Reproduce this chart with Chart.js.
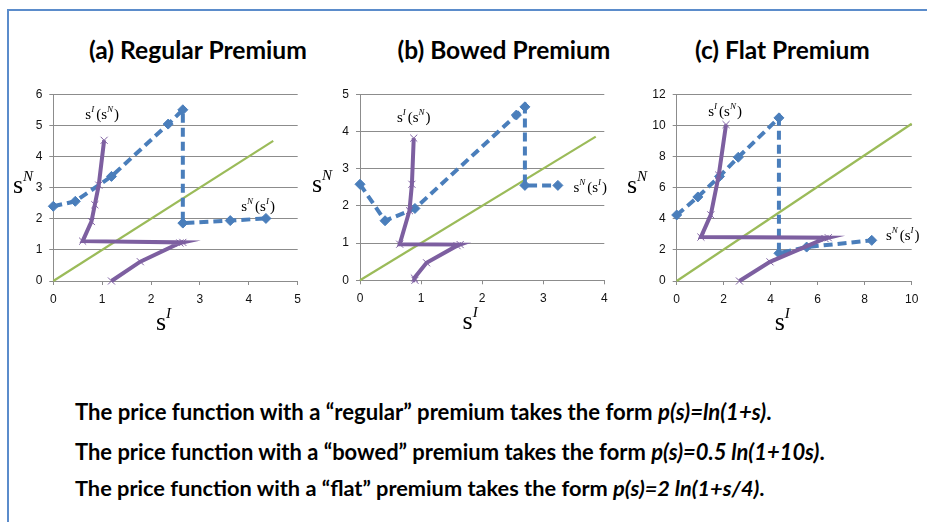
<!DOCTYPE html>
<html><head><meta charset="utf-8">
<script src="https://cdn.jsdelivr.net/npm/chart.js@4"></script>
<style>
html,body{margin:0;padding:0;background:#fff;overflow:hidden;}
body{width:929px;height:522px;position:relative;font-family:Lato,"Open Sans",sans-serif;color:#000;}
#frame{position:absolute;left:0;top:0;}
.title,.note{position:absolute;font-weight:bold;white-space:nowrap;line-height:1;}
.panel{position:absolute;top:80px;}
</style></head>
<body>
<svg id="frame" width="929" height="522"><path d="M8 522 L8 10 L927 10" fill="none" stroke="#5B8CCB" stroke-width="2"/></svg>
<div class="title" id="t0" data-cx="198" data-w="218" data-b="60">(a) Regular Premium</div>
<div class="title" id="t1" data-cx="504" data-w="213" data-b="60">(b) Bowed Premium</div>
<div class="title" id="t2" data-cx="782.5" data-w="175" data-b="60">(c) Flat Premium</div>
<canvas class="panel" id="c0" width="310" height="260" style="left:0px"></canvas>
<canvas class="panel" id="c1" width="315" height="260" style="left:305px"></canvas>
<canvas class="panel" id="c2" width="309" height="260" style="left:620px"></canvas>
<div class="note" data-x="75" data-w="697" data-b="421">The price function with a “regular” premium takes the form <i>p(s)=ln(1+s)</i>.</div>
<div class="note" data-x="75" data-w="750" data-b="460">The price function with a “bowed” premium takes the form <i>p(s)=0.5 ln(1+10s)</i>.</div>
<div class="note" data-x="75" data-w="690" data-b="497">The price function with a “flat” premium takes the form <i>p(s)=2 ln(1+s/4)</i>.</div>
<script>
// ---------- data ----------
// Panel (a) Regular premium
const aBlueX   = [0, 0.45, 1.19, 2.35, 2.65, 2.65, 3.62, 4.35];
const aBlueY   = [2.40, 2.56, 3.36, 5.04, 5.50, 1.86, 1.94, 2.01];
const aPurpleX = [1.19, 1.78, 2.59, 2.65, 0.60, 0.78, 0.85, 0.93, 1.04];
const aPurpleY = [0, 0.62, 1.22, 1.24, 1.28, 1.91, 2.45, 3.08, 4.52];
const aDiagX   = [0, 4.5];
const aDiagY   = [0, 4.5];
// Panel (b) Bowed premium
const bBlueX   = [0, 0.41, 0.90, 2.56, 2.70, 2.70, 3.24];
const bBlueY   = [2.58, 1.60, 1.93, 4.44, 4.66, 2.55, 2.55];
const bPurpleX = [0.90, 0.89, 1.09, 1.59, 1.64, 0.65, 0.81, 0.85, 0.88];
const bPurpleY = [0, 0.06, 0.47, 0.93, 0.96, 0.97, 1.87, 2.58, 3.82];
const bDiagX   = [0, 3.86];
const bDiagY   = [0, 3.86];
// Panel (c) Flat premium
const cBlueX   = [0, 0.90, 1.82, 2.62, 4.35, 4.35, 5.53, 8.30];
const cBlueY   = [4.24, 5.40, 6.72, 7.95, 10.48, 1.78, 2.18, 2.61];
const cPurpleX = [2.67, 3.97, 6.31, 6.45, 1.03, 1.45, 1.79, 2.10];
const cPurpleY = [0, 1.23, 2.73, 2.78, 2.82, 4.25, 6.80, 10.05];
const cDiagX   = [0, 10];
const cDiagY   = [0, 10.1];
// axes
const aXMax = 5, aYMax = 6, aXStep = 1, aYStep = 1;
const bXMax = 4, bYMax = 5, bXStep = 1, bYStep = 1;
const cXMax = 10, cYMax = 12, cXStep = 2, cYStep = 2;
// label anchor positions (data coords)
const aLabelSI = [1.0, 5.37], aLabelSN = [4.19, 2.42];
const bLabelSI = [0.88, 4.4], bLabelSN = [3.77, 2.5];
const cLabelSI = [2.06, 10.94], cLabelSN = [9.62, 2.93];

// ---------- helpers ----------
const zip = (xs, ys) => xs.map((x, i) => ({x, y: ys[i]}));
const BLUE = '#4A7EBB', PURPLE = '#7D5FA0', GREEN = '#9BBB59', GRID = '#8C8C8C';

function richWidth(ctx, parts){
  let w = 0;
  parts.forEach(p => { ctx.font = (p.it ? 'italic ' : '') + p.sz + 'px "Liberation Serif", "DejaVu Serif", serif'; w += ctx.measureText(p.t).width + (p.gap||0); });
  return w;
}
function drawRich(ctx, x, y, parts){
  const w = richWidth(ctx, parts);
  let cx = x - w / 2;
  ctx.save();
  ctx.fillStyle = '#000';
  ctx.textBaseline = 'alphabetic';
  ctx.textAlign = 'left';
  parts.forEach(p => {
    ctx.font = (p.it ? 'italic ' : '') + p.sz + 'px "Liberation Serif", "DejaVu Serif", serif';
    ctx.fillText(p.t, cx, y + (p.dy||0));
    cx += ctx.measureText(p.t).width + (p.gap||0);
  });
  ctx.restore();
}
const labSIofSN = [{t:'s',sz:15},{t:'I',sz:9,it:true,dy:-7,gap:2},{t:'(s',sz:15},{t:'N',sz:9,it:true,dy:-7,gap:1},{t:')',sz:15}];
const labSNofSI = [{t:'s',sz:15},{t:'N',sz:9,it:true,dy:-7,gap:2},{t:'(s',sz:15},{t:'I',sz:9,it:true,dy:-7,gap:1},{t:')',sz:15}];
const axSI = [{t:'s',sz:26},{t:'I',sz:15,it:true,dy:-12}];
const axSN = [{t:'s',sz:26},{t:'N',sz:15,it:true,dy:-12}];

function makeChart(id, cfg){
  const pad = cfg.pad;
  const textPlugin = {
    id: 'txt' + id,
    afterDatasetsDraw(chart){
      const ctx = chart.ctx, xs = chart.scales.x, ys = chart.scales.y, ca = chart.chartArea;
      drawRich(ctx, xs.getPixelForValue(cfg.lSI[0]), ys.getPixelForValue(cfg.lSI[1]) + 5, labSIofSN);
      drawRich(ctx, xs.getPixelForValue(cfg.lSN[0]), ys.getPixelForValue(cfg.lSN[1]) + 5, labSNofSI);
      drawRich(ctx, (ca.left + ca.right) / 2 - 12, ca.bottom + 49, axSI);
      drawRich(ctx, cfg.yTitleX, (ca.top + ca.bottom) / 2 + 5, axSN);
    }
  };
  return new Chart(document.getElementById(id), {
    type: 'scatter',
    data: { datasets: [
      { data: zip(cfg.px, cfg.py), showLine: true, borderColor: PURPLE, borderWidth: 4, tension: 0,
        pointStyle: 'crossRot', pointRadius: 5, pointBorderColor: PURPLE, pointBorderWidth: 1, pointBackgroundColor: PURPLE, order: 1 },
      { data: zip(cfg.bx, cfg.by), showLine: true, borderColor: BLUE, borderWidth: 4, borderDash: [9, 5], tension: 0,
        pointStyle: 'rectRot', pointRadius: 5, pointBackgroundColor: BLUE, pointBorderColor: BLUE, pointBorderWidth: 1, order: 2 },
      { data: zip(cfg.gx, cfg.gy), showLine: true, borderColor: GREEN, borderWidth: 2.2, tension: 0,
        pointRadius: 0, order: 3 }
    ]},
    options: {
      responsive: false, animation: false, devicePixelRatio: 1,
      clip: false,
      layout: { padding: { left: pad[0], top: pad[1], right: pad[2], bottom: pad[3] } },
      plugins: { legend: { display: false }, tooltip: { enabled: false } },
      scales: {
        x: { type: 'linear', min: 0, max: cfg.xMax,
          ticks: { stepSize: cfg.xStep, color: '#111', font: { family: '"Liberation Sans", Arial, sans-serif', size: 12 }, padding: 7, maxRotation: 0 },
          grid: { drawOnChartArea: false, drawTicks: true, tickLength: 4, tickColor: GRID, color: GRID },
          border: { color: GRID, width: 1 },
          afterFit(s){ s.height = 30; } },
        y: { type: 'linear', min: 0, max: cfg.yMax,
          ticks: { stepSize: cfg.yStep, color: '#111', font: { family: '"Liberation Sans", Arial, sans-serif', size: 12 }, padding: 7 },
          grid: { color: GRID, lineWidth: 1, drawTicks: true, tickLength: 4, tickColor: GRID },
          border: { color: GRID, width: 1 },
          afterFit(s){ s.width = 40; } }
      }
    },
    plugins: [textPlugin]
  });
}

makeChart('c0', { px: aPurpleX, py: aPurpleY, bx: aBlueX, by: aBlueY, gx: aDiagX, gy: aDiagY,
  xMax: aXMax, yMax: aYMax, xStep: aXStep, yStep: aYStep, lSI: aLabelSI, lSN: aLabelSN,
  pad: [13.3, 12.3, 12.3, 29], yTitleX: 23 });
makeChart('c1', { px: bPurpleX, py: bPurpleY, bx: bBlueX, by: bBlueY, gx: bDiagX, gy: bDiagY,
  xMax: bXMax, yMax: bYMax, xStep: bXStep, yStep: bYStep, lSI: bLabelSI, lSN: bLabelSN,
  pad: [15, 12.3, 15.7, 29.7], yTitleX: 17 });
makeChart('c2', { px: cPurpleX, py: cPurpleY, bx: cBlueX, by: cBlueY, gx: cDiagX, gy: cDiagY,
  xMax: cXMax, yMax: cYMax, xStep: cXStep, yStep: cYStep, lSI: cLabelSI, lSN: cLabelSN,
  pad: [16.7, 12.3, 17.3, 29], yTitleX: 17 });

// fit HTML text blocks to the reference widths
function fit(el, size){
  el.style.fontSize = size + 'px';
  const w = el.getBoundingClientRect().width;
  const target = parseFloat(el.dataset.w);
  const fs = size * target / w;
  el.style.fontSize = fs + 'px';
  const b = parseFloat(el.dataset.b);
  el.style.top = (b - 0.887 * fs) + 'px';
  if (el.dataset.cx) el.style.left = (parseFloat(el.dataset.cx) - target / 2) + 'px';
  else el.style.left = el.dataset.x + 'px';
}
document.querySelectorAll('.title').forEach(el => fit(el, 24));
document.querySelectorAll('.note').forEach(el => fit(el, 21));
</script>
</body></html>
